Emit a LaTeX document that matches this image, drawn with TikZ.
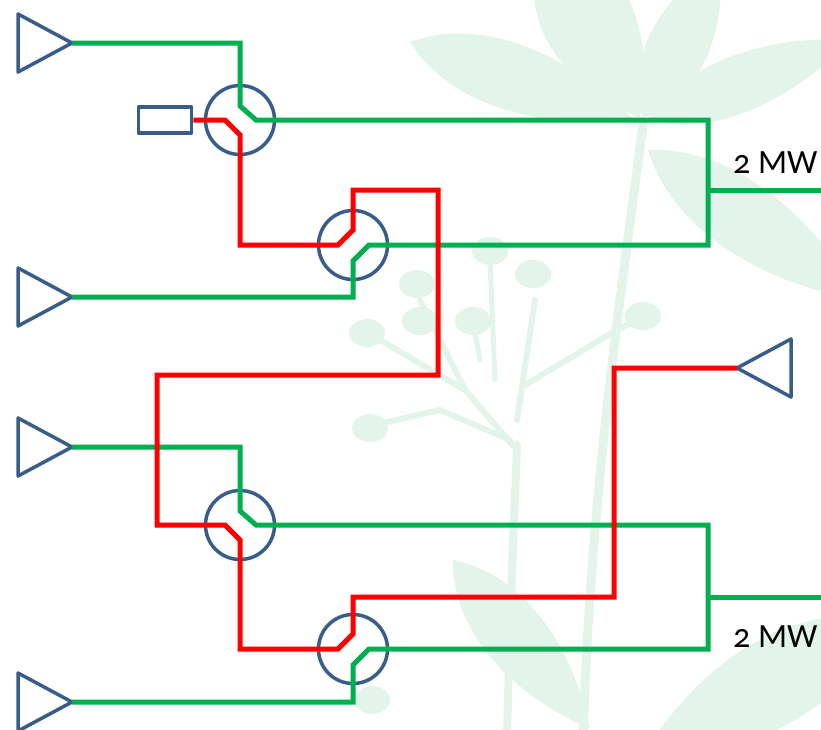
\documentclass[tikz,border=0pt]{standalone}
\usepackage{fontspec}
\setmainfont{Carlito}[Numbers=OldStyle]
\usetikzlibrary{calc}
\definecolor{FeedGreen}{RGB}{0,176,80}
\definecolor{FeedRed}{RGB}{255,0,0}
\definecolor{PartBlue}{RGB}{56,93,138}
\definecolor{LeafMint}{RGB}{227,245,235}

% leaf from #1 to #2, #3 = width ratio
\newcommand\leafshape[3]{%
  \fill[leaf] (#1) .. controls ($(#1)!0.25!(#2)!#3!90:(#2)$) and ($(#2)!0.35!(#1)!#3!-90:(#1)$) .. (#2)
     .. controls ($(#2)!0.35!(#1)!#3!90:(#1)$) and ($(#1)!0.25!(#2)!#3!-90:(#2)$) .. (#1);}

\begin{document}
\begin{tikzpicture}[x=1pt,y=-1pt,
  grn/.style={FeedGreen,line width=5pt},
  redl/.style={FeedRed,line width=5pt},
  part/.style={PartBlue,line width=3.5pt,line join=round},
  circ/.style={part,circle,draw,minimum size=69pt,inner sep=0pt},
  load/.style={part,rectangle,draw,minimum width=53pt,minimum height=26pt,inner sep=0pt},
  ant/.pic={\draw[part] (0,0) -- (-54,-29) -- (-54,29) -- cycle;},
  leaf/.style={fill=LeafMint,draw=none},
  stalk/.style={draw=LeafMint,line width=#1,line cap=round},
  mw/.style={font=\fontsize{34}{40}\selectfont,inner sep=0pt}]
\useasboundingbox (0,0) rectangle (821,729);
\clip (0,0) rectangle (821,729);

% plant in the background
\leafshape{410,42}{632,118}{0.27}
\leafshape{545,-60}{640,118}{0.43}
\leafshape{643,118}{720,-40}{0.33}
\leafshape{648,120}{850,40}{0.25}
\leafshape{648,150}{860,300}{0.26}
\leafshape{453,560}{590,729}{0.28}
\leafshape{880,620}{640,760}{0.3}
\draw[stalk=9pt] (643,125) .. controls (620,300) and (590,500) .. (583,740);
\draw[stalk=8pt] (507,740) .. controls (510,600) and (515,500) .. (517,445);
\draw[stalk=6pt] (517,450) -- (465,390) -- (420,300);
\draw[stalk=6pt] (465,390) -- (380,340);
\draw[stalk=6pt] (517,420) -- (535,300);
\draw[stalk=5pt] (495,380) -- (490,260);
\draw[stalk=6pt] (525,385) -- (600,340) -- (643,316);
\draw[stalk=6pt] (510,440) -- (440,410) -- (375,425);
\draw[stalk=5pt] (480,360) -- (473,321);
\foreach \x/\y in {490/251,533/274,417/284,420/321,367/333,370/428,473/321,643/316,372/700} {
  \fill[leaf] (\x,\y) ellipse (18pt and 14pt);
}

% antennas, circulators and load
\foreach \n/\y in {1/43,2/297,3/447,4/702} {
  \coordinate (a\n) at (72,\y);
  \pic at (a\n) {ant};
}
\coordinate (a5) at (737,368);
\pic[rotate=180] at (a5) {ant};
\foreach \n/\x/\y in {1/240/120,2/353/245,3/240/525,4/353/649} {
  \node[circ] (c\n) at (\x,\y) {};
}
\node[load] (ld) at (165,120) {};

\coordinate (j2) at (708,245);
\coordinate (j4) at (708,649);
\coordinate (m1) at (708,190);
\coordinate (m2) at (708,597);
\coordinate (o1) at (830,190);
\coordinate (o2) at (830,597);
\coordinate (k1) at (438,190);
\coordinate (k2) at (157,375);
\coordinate (k3) at (614,597);

% feed lines
\draw[grn] (a1) -| ($(c1)+(0,-14)$) -- ++(16,14) -| (j2) -- ($(c2)+(16,0)$) -- ++(-16,16) |- (a2);
\draw[grn] (a3) -| ($(c3)+(0,-14)$) -- ++(16,14) -| (j4) -- ($(c4)+(16,0)$) -- ++(-16,16) |- (a4);
\draw[grn] (m1) -- (o1);
\draw[grn] (m2) -- (o2);
\draw[redl] (ld.east) -- ($(c1)+(-15,0)$) -- ++(15,15) |- ($(c2)+(-15,0)$) -- ++(15,-15)
   |- (k1) |- (k2) |- ($(c3)+(-15,0)$) -- ++(15,15) |- ($(c4)+(-15,0)$) -- ++(15,-15)
   |- (k3) |- (a5);

\node[mw,anchor=base west] (mw1) at (733,173) {2 MW};
\node[mw,anchor=base west] (mw2) at (733,647) {2 MW};
\end{tikzpicture}
\end{document}
